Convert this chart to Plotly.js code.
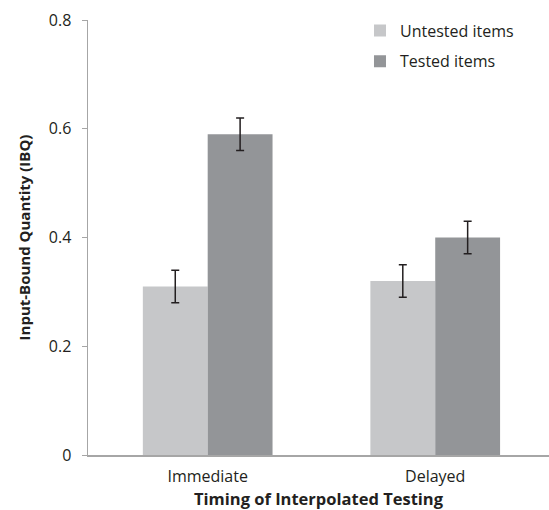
<!DOCTYPE html>
<html>
<head>
<meta charset="utf-8">
<script src="https://cdn.plot.ly/plotly-3.0.1.min.js"></script>
<style>html,body{margin:0;padding:0;background:#fff;}#chart{width:549px;height:510px;}</style>
</head>
<body>
<div id="chart"></div>
<script>
const categories = ["Immediate", "Delayed"];
const untestedValues = [0.31, 0.32];
const untestedErrors = [0.03, 0.03];
const testedValues = [0.59, 0.40];
const testedErrors = [0.03, 0.03];
const seriesNames = ["Untested items", "Tested items"];
const yTickValues = [0, 0.2, 0.4, 0.6, 0.8];
const yTickLabels = ["0", "0.2", "0.4", "0.6", "0.8"];

const FONT = "Open Sans, Liberation Sans, sans-serif";
const errStyle = {type: "data", visible: true, thickness: 1.5, width: 4, color: "#231f20"};

const data = [
  {
    type: "bar", x: categories, y: untestedValues, name: seriesNames[0],
    marker: {color: "#c6c7c9"}, legendgroup: "a",
    error_y: Object.assign({array: untestedErrors}, errStyle)
  },
  {
    type: "bar", x: categories, y: testedValues, name: seriesNames[1],
    marker: {color: "#939598"}, legendgroup: "b",
    error_y: Object.assign({array: testedErrors}, errStyle)
  }
];

const layout = {
  width: 549, height: 510,
  margin: {l: 88, r: 0, t: 20, b: 55},
  paper_bgcolor: "#fff", plot_bgcolor: "#fff",
  barmode: "group", bargap: 0.43, bargroupgap: 0,
  font: {family: FONT, size: 16, color: "#231f20"},
  showlegend: true,
  legend: {x: 0.59, y: 1.015, xanchor: "left", yanchor: "top", tracegroupgap: 7,
           font: {family: FONT, size: 16, color: "#231f20"}, bgcolor: "rgba(0,0,0,0)"},
  xaxis: {
    type: "category", range: [-0.526, 1.5],
    showline: true, linecolor: "#a6a6a6", linewidth: 1.5,
    ticks: "", showgrid: false, zeroline: false, ticklabelstandoff: 6,
    tickfont: {family: FONT, size: 16, color: "#231f20"},
    title: {text: "<b>Timing of Interpolated Testing</b>", font: {family: FONT, size: 16.5, color: "#231f20"}, standoff: 11}
  },
  yaxis: {
    range: [0, 0.8], tickvals: yTickValues, ticktext: yTickLabels,
    showline: true, linecolor: "#a6a6a6", linewidth: 1.5,
    ticks: "outside", ticklen: 5, tickcolor: "#a6a6a6", tickwidth: 1,
    showgrid: false, zeroline: false, ticklabelstandoff: 7,
    tickfont: {family: FONT, size: 16, color: "#231f20"},
    title: {text: "<b>Input-Bound Quantity (IBQ)</b>", font: {family: FONT, size: 15, color: "#231f20"}, standoff: 14}
  }
};

Plotly.newPlot("chart", data, layout, {displayModeBar: false, staticPlot: true});
</script>
</body>
</html>
